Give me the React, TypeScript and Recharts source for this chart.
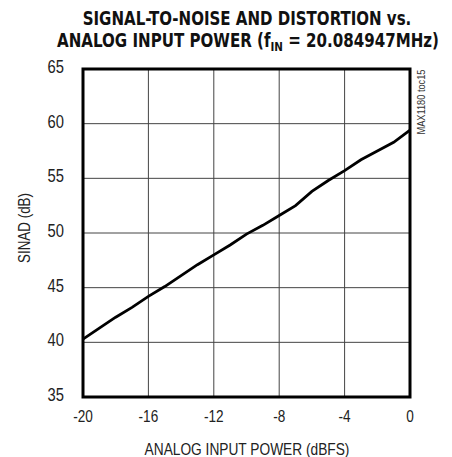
import React, { useLayoutEffect, useRef, useState } from 'react';
import { LineChart, Line, XAxis, YAxis, CartesianGrid, ReferenceArea } from 'recharts';

const inputPower = [-20, -19, -18, -17, -16, -15, -14, -13, -12, -11, -10, -9, -8, -7, -6, -5, -4, -3, -2, -1, 0];
const sinad = [40.3, 41.3, 42.3, 43.2, 44.2, 45.1, 46.1, 47.1, 48.0, 48.9, 49.9, 50.7, 51.6, 52.5, 53.8, 54.8, 55.7, 56.7, 57.5, 58.3, 59.4];
const xTicks = [-20, -16, -12, -8, -4, 0];
const yTicks = [35, 40, 45, 50, 55, 60, 65];

const data = inputPower.map((p, i) => ({ p, s: sinad[i] }));

const TITLE_FONT = '"DejaVu Sans Condensed", "Liberation Sans", Arial, sans-serif';
const FONT = '"Liberation Sans", Arial, sans-serif';

function FitText({ x, y, width, rotate = 0, children, ...rest }: any) {
  const ref = useRef<SVGTextElement>(null);
  const [s, setS] = useState(1);
  useLayoutEffect(() => {
    if (ref.current) {
      const w = ref.current.getComputedTextLength();
      if (w > 0) setS(width / w);
    }
  }, [width]);
  return (
    <text ref={ref} x={0} y={0} transform={`translate(${x},${y}) rotate(${rotate}) scale(${s},1)`} textAnchor="middle" {...rest}>
      {children}
    </text>
  );
}

function XTick(props: any) {
  const { x, y, payload } = props;
  return (
    <text transform={`translate(${x},${y + 25}) scale(0.8,1)`} textAnchor="middle" fontFamily={FONT} fontSize={17} fill="#222">
      {payload.value}
    </text>
  );
}

function YTick(props: any) {
  const { x, y, payload } = props;
  return (
    <text transform={`translate(${x},${y + 4}) scale(0.82,1)`} textAnchor="end" fontFamily={FONT} fontSize={18} fill="#222">
      {payload.value}
    </text>
  );
}

export default function App() {
  return (
    <div style={{ position: 'absolute', left: 0, top: 0, width: 452, height: 457, background: '#fff' }}>
      <LineChart width={452} height={457} data={data} margin={{ top: 69, right: 42, bottom: 0, left: 0 }}>
        <CartesianGrid stroke="#444" strokeWidth={1} />
        <XAxis
          dataKey="p"
          type="number"
          domain={[-20, 0]}
          ticks={xTicks}
          height={60}
          tickSize={0}
          tickMargin={0}
          axisLine={false}
          tick={<XTick />}
        />
        <YAxis
          type="number"
          domain={[35, 65]}
          ticks={yTicks}
          width={83}
          tickSize={0}
          tickMargin={19}
          axisLine={false}
          tick={<YTick />}
        />
        <ReferenceArea x1={-20} x2={0} y1={35} y2={65} fill="none" stroke="#000" strokeWidth={3} fillOpacity={0} />
        <Line dataKey="s" stroke="#000" strokeWidth={2.8} dot={false} isAnimationActive={false} type="linear" />
      </LineChart>
      <svg width={452} height={457} style={{ position: 'absolute', left: 0, top: 0, pointerEvents: 'none' }}>
        <FitText x={247} y={25} width={329} fontFamily={TITLE_FONT} fontWeight="bold" fontSize={19} fill="#111">
          SIGNAL-TO-NOISE AND DISTORTION vs.
        </FitText>
        <FitText x={248} y={47} width={382} fontFamily={TITLE_FONT} fontWeight="bold" fontSize={19} fill="#111">
          ANALOG INPUT POWER (f<tspan fontSize={13} dy={4}>IN</tspan><tspan dy={-4}> = 20.084947MHz)</tspan>
        </FitText>
        <FitText x={30} y={228} rotate={-90} width={70} fontFamily={FONT} fontSize={16} fill="#222">
          SINAD (dB)
        </FitText>
        <FitText x={247} y={455} width={205} fontFamily={FONT} fontSize={17} fill="#222">
          ANALOG INPUT POWER (dBFS)
        </FitText>
        <FitText x={425} y={102} rotate={-90} width={65} fontFamily={FONT} fontSize={11} fill="#333">
          MAX1180 toc15
        </FitText>
      </svg>
    </div>
  );
}
